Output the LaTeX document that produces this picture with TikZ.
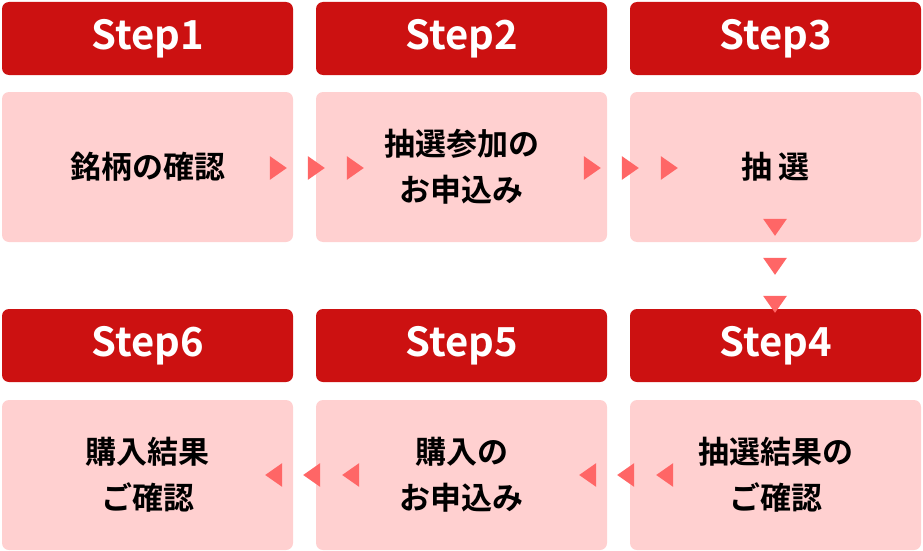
\documentclass[tikz,border=0pt]{standalone}
\usepackage{fontspec}
\setmainfont{Noto Sans CJK JP Bold}
\usetikzlibrary{shapes.geometric}
\definecolor{headred}{RGB}{204,17,17}
\definecolor{bodypink}{RGB}{255,208,208}
\definecolor{tipred}{RGB}{255,102,102}
\begin{document}
\begin{tikzpicture}[x=1pt,y=-1pt,
  head/.style={fill=headred,rounded corners=7pt,minimum width=291pt,minimum height=73pt,text=white,font=\fontsize{40}{44}\selectfont},
  card/.style={fill=bodypink,rounded corners=7pt,minimum width=291pt,minimum height=150pt,align=center,font=\fontsize{31}{46}\selectfont},
  tip/.style={isosceles triangle,isosceles triangle apex angle=70,fill=tipred,inner sep=0pt,minimum height=17pt,minimum width=20pt,shape border rotate=#1}]
\useasboundingbox (0,0) rectangle (923,551);
% row one
\node[head] (h1) at (147.5,38.5) {Step1};
\node[head] (h2) at (461.5,38.5) {Step2};
\node[head] (h3) at (775.5,38.5) {Step3};
\node[card] (c1) at (147.5,167) {銘柄の確認};
\node[card] (c2) at (461.5,167) {抽選参加の\\お申込み};
\node[card] (c3) at (775.5,167) {抽\,選};
% row two
\node[head] (h6) at (147.5,345.5) {Step6};
\node[head] (h5) at (461.5,345.5) {Step5};
\node[head] (h4) at (775.5,345.5) {Step4};
\node[card] (c6) at (147.5,475) {購入結果\\ご確認};
\node[card] (c5) at (461.5,475) {購入の\\お申込み};
\node[card] (c4) at (775.5,475) {抽選結果の\\ご確認};
% arrows
\foreach \x in {276,314,353}{
  \node[tip=0] at (\x,168) {};
  \node[tip=0] at (\x+314,168) {};
  \node[tip=180] at (\x,475) {};
  \node[tip=180] at (\x+314,475) {};
}
\foreach \y in {225,264,302}
  \node[tip=-90] at (775,\y) {};
\end{tikzpicture}
\end{document}
